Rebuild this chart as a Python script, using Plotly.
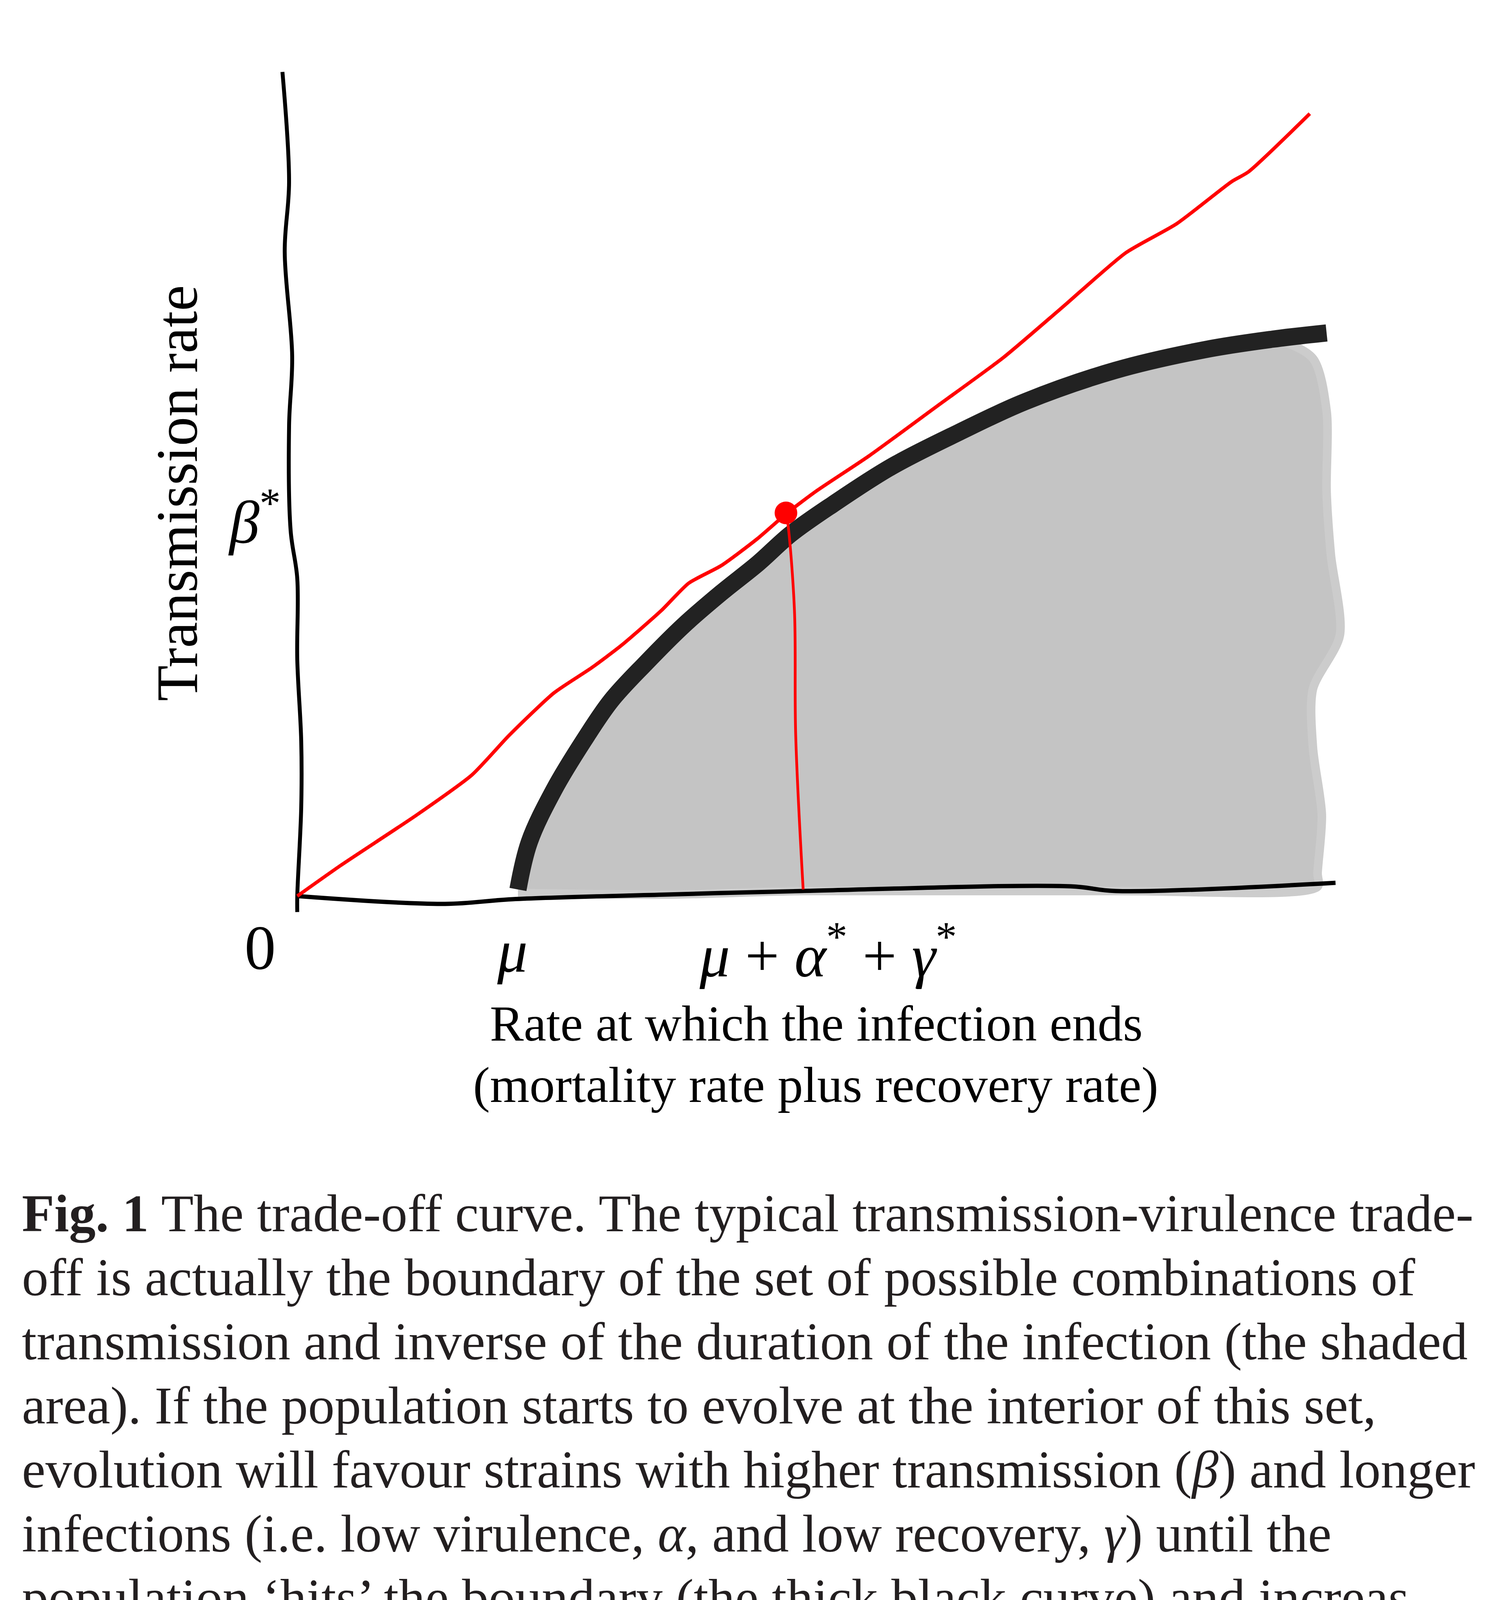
import plotly.graph_objects as go

W, H = 3840, 5661
PX_PER_UNIT = 265.5          # pixels per rate unit (same on both axes)
ORIGIN_PX = (753, 2286)      # where the axes cross, in page pixels

# hand-drawn axes (rate units)
axis_x_x = [0, 1.424, 2.075, 3.567, 4.863, 7.458, 7.891, 10.011]
axis_x_y = [0, -0.075, -0.030, 0.015, 0.049, 0.094, 0.049, 0.128]
axis_y_x = [0, 0, 0.038, 0.038, 0, 0, -0.064, -0.079, -0.049, -0.121, -0.079, -0.143]
axis_y_y = [-0.154, 0, 0.851, 1.499, 2.282, 3.062, 3.525, 4.535, 5.205, 6.215, 6.889, 7.947]

# trade-off curve (thick black)
curve_x = [2.128, 2.237, 2.475, 2.765, 3.028, 3.363, 3.725, 4.087, 4.444, 4.757,
           5.168, 5.729, 6.377, 7.024, 7.891, 8.757, 9.405, 9.925]
curve_y = [0.064, 0.520, 1.024, 1.503, 1.887, 2.249, 2.610, 2.923, 3.209, 3.490,
           3.780, 4.140, 4.470, 4.770, 5.070, 5.270, 5.370, 5.430]

# tangent through the origin (red)
tangent_x = [0, 0.422, 1.153, 1.684, 2.045, 2.475, 2.836, 3.126, 3.510, 3.774, 4.087,
             4.433, 4.712, 4.994, 5.514, 6.162, 6.810, 7.371, 7.989, 8.478, 9.009,
             9.171, 9.763]
tangent_y = [0, 0.298, 0.783, 1.168, 1.552, 1.959, 2.200, 2.418, 2.753, 3.017, 3.186,
             3.443, 3.684, 3.898, 4.245, 4.719, 5.194, 5.672, 6.203, 6.482, 6.889,
             6.983, 7.544]

# drop line from the ESS point to the x axis
drop_x = [4.712, 4.733, 4.794, 4.806, 4.878]
drop_y = [3.695, 3.571, 2.753, 1.552, 0.064]
ess_x = [4.712]
ess_y = [3.695]

# shaded set of feasible strategies: right edge and bottom edge
edge_x = [9.793, 9.925, 9.925, 9.966, 10.053, 9.793, 9.793, 9.879, 9.838, 9.838,
          7.891, 4.863, 3.567, 2.128]
edge_y = [5.185, 4.678, 3.898, 3.292, 2.516, 1.996, 1.435, 0.783, 0.222, 0.090,
          0.049, 0.049, 0.015, 0.030]

caption_lines = [
    "<b>Fig. 1</b> The trade-off curve. The typical transmission-virulence trade-",
    "off is actually the boundary of the set of possible combinations of",
    "transmission and inverse of the duration of the infection (the shaded",
    "area). If the population starts to evolve at the interior of this set,",
    "evolution will favour strains with higher transmission (<i>β</i>) and longer",
    "infections (i.e. low virulence, <i>α</i>, and low recovery, <i>γ</i>) until the",
    "population ‘hits’ the boundary (the thick black curve) and increas-",
    "ing rates of transmission can only be ‘bought’ at the cost of",
    "accelerating mortality and/or recovery rates. Adaptive dynamics",
    "then can tell us at what point along the trade-off evolution will stop",
    "(if at all). If the curve saturates (i.e. is concave), the evolutionary",
    "stable strategy (ESS) is given by the tangent of the curve that passes",
    "through the origin (diagonal line). This ESS determines the optimal",
    "level of virulence (denoted <i>α</i>*), which coincides with optimal",
    "transmission and recovery rates (<i>β</i>* and <i>γ</i>*). Note that here the host-",
    "background mortality (<i>μ</i>) is assumed to be constant (see Box 1).",
]

SERIF = "Liberation Serif"


def paper(px, py):
    return px / W, 1 - py / H


fig = go.Figure()

# shaded area: under the curve, then down the right edge and back along the bottom
shade_x = curve_x[:-1] + edge_x
shade_y = curve_y[:-1] + edge_y
fig.add_trace(go.Scatter(x=shade_x, y=shade_y, mode="lines", fill="toself",
                         fillcolor="#c4c4c4",
                         line=dict(color="#cccccc", width=22, shape="spline", smoothing=0.8),
                         hoverinfo="skip"))

fig.add_trace(go.Scatter(x=axis_x_x, y=axis_x_y, mode="lines",
                         line=dict(color="black", width=11, shape="spline")))
fig.add_trace(go.Scatter(x=axis_y_x, y=axis_y_y, mode="lines",
                         line=dict(color="black", width=10, shape="spline")))

fig.add_trace(go.Scatter(x=curve_x, y=curve_y, mode="lines",
                         line=dict(color="#222222", width=44, shape="spline")))

fig.add_trace(go.Scatter(x=tangent_x, y=tangent_y, mode="lines",
                         line=dict(color="#ff0000", width=9, shape="spline", smoothing=0.6)))
fig.add_trace(go.Scatter(x=drop_x, y=drop_y, mode="lines",
                         line=dict(color="#ff0000", width=7, shape="spline")))
fig.add_trace(go.Scatter(x=ess_x, y=ess_y, mode="markers",
                         marker=dict(color="#ff0000", size=58)))

x0 = -ORIGIN_PX[0] / PX_PER_UNIT
x1 = (W - ORIGIN_PX[0]) / PX_PER_UNIT
y0 = (ORIGIN_PX[1] - H) / PX_PER_UNIT
y1 = ORIGIN_PX[1] / PX_PER_UNIT

annotations = []


def label(text, px, py, size, xanchor="center", angle=0, color="black", family=SERIF):
    x, y = paper(px, py)
    annotations.append(dict(text=text, x=x, y=y, xref="paper", yref="paper",
                            xanchor=xanchor, yanchor="middle", showarrow=False,
                            textangle=angle, font=dict(family=family, size=size, color=color)))


# axis values and titles
label("0", 658, 2418, 160)
label("<i>μ</i>", 1303, 2427, 155)
label("<i>μ</i> + <i>α</i><sup>*</sup> + <i>γ</i><sup>*</sup>", 2112, 2427, 155)
label("<i>β</i><sup>*</sup>", 712, 1317, 155, xanchor="right")
label("Transmission rate", 445, 1255, 150, angle=-90)
label("Rate at which the infection ends", 2081, 2612, 130)
label("(mortality rate plus recovery rate)", 2080, 2769, 130)

# figure caption, one annotation per printed line
for i, line in enumerate(caption_lines):
    label(line, 46, 3145 + 164 * i - 47, 136, xanchor="left", color="#231f20")

fig.update_layout(
    width=W, height=H,
    margin=dict(l=0, r=0, t=0, b=0),
    paper_bgcolor="white", plot_bgcolor="white",
    showlegend=False,
    xaxis=dict(range=[x0, x1], visible=False),
    yaxis=dict(range=[y0, y1], visible=False),
    annotations=annotations,
)

fig.write_html("out.html")
